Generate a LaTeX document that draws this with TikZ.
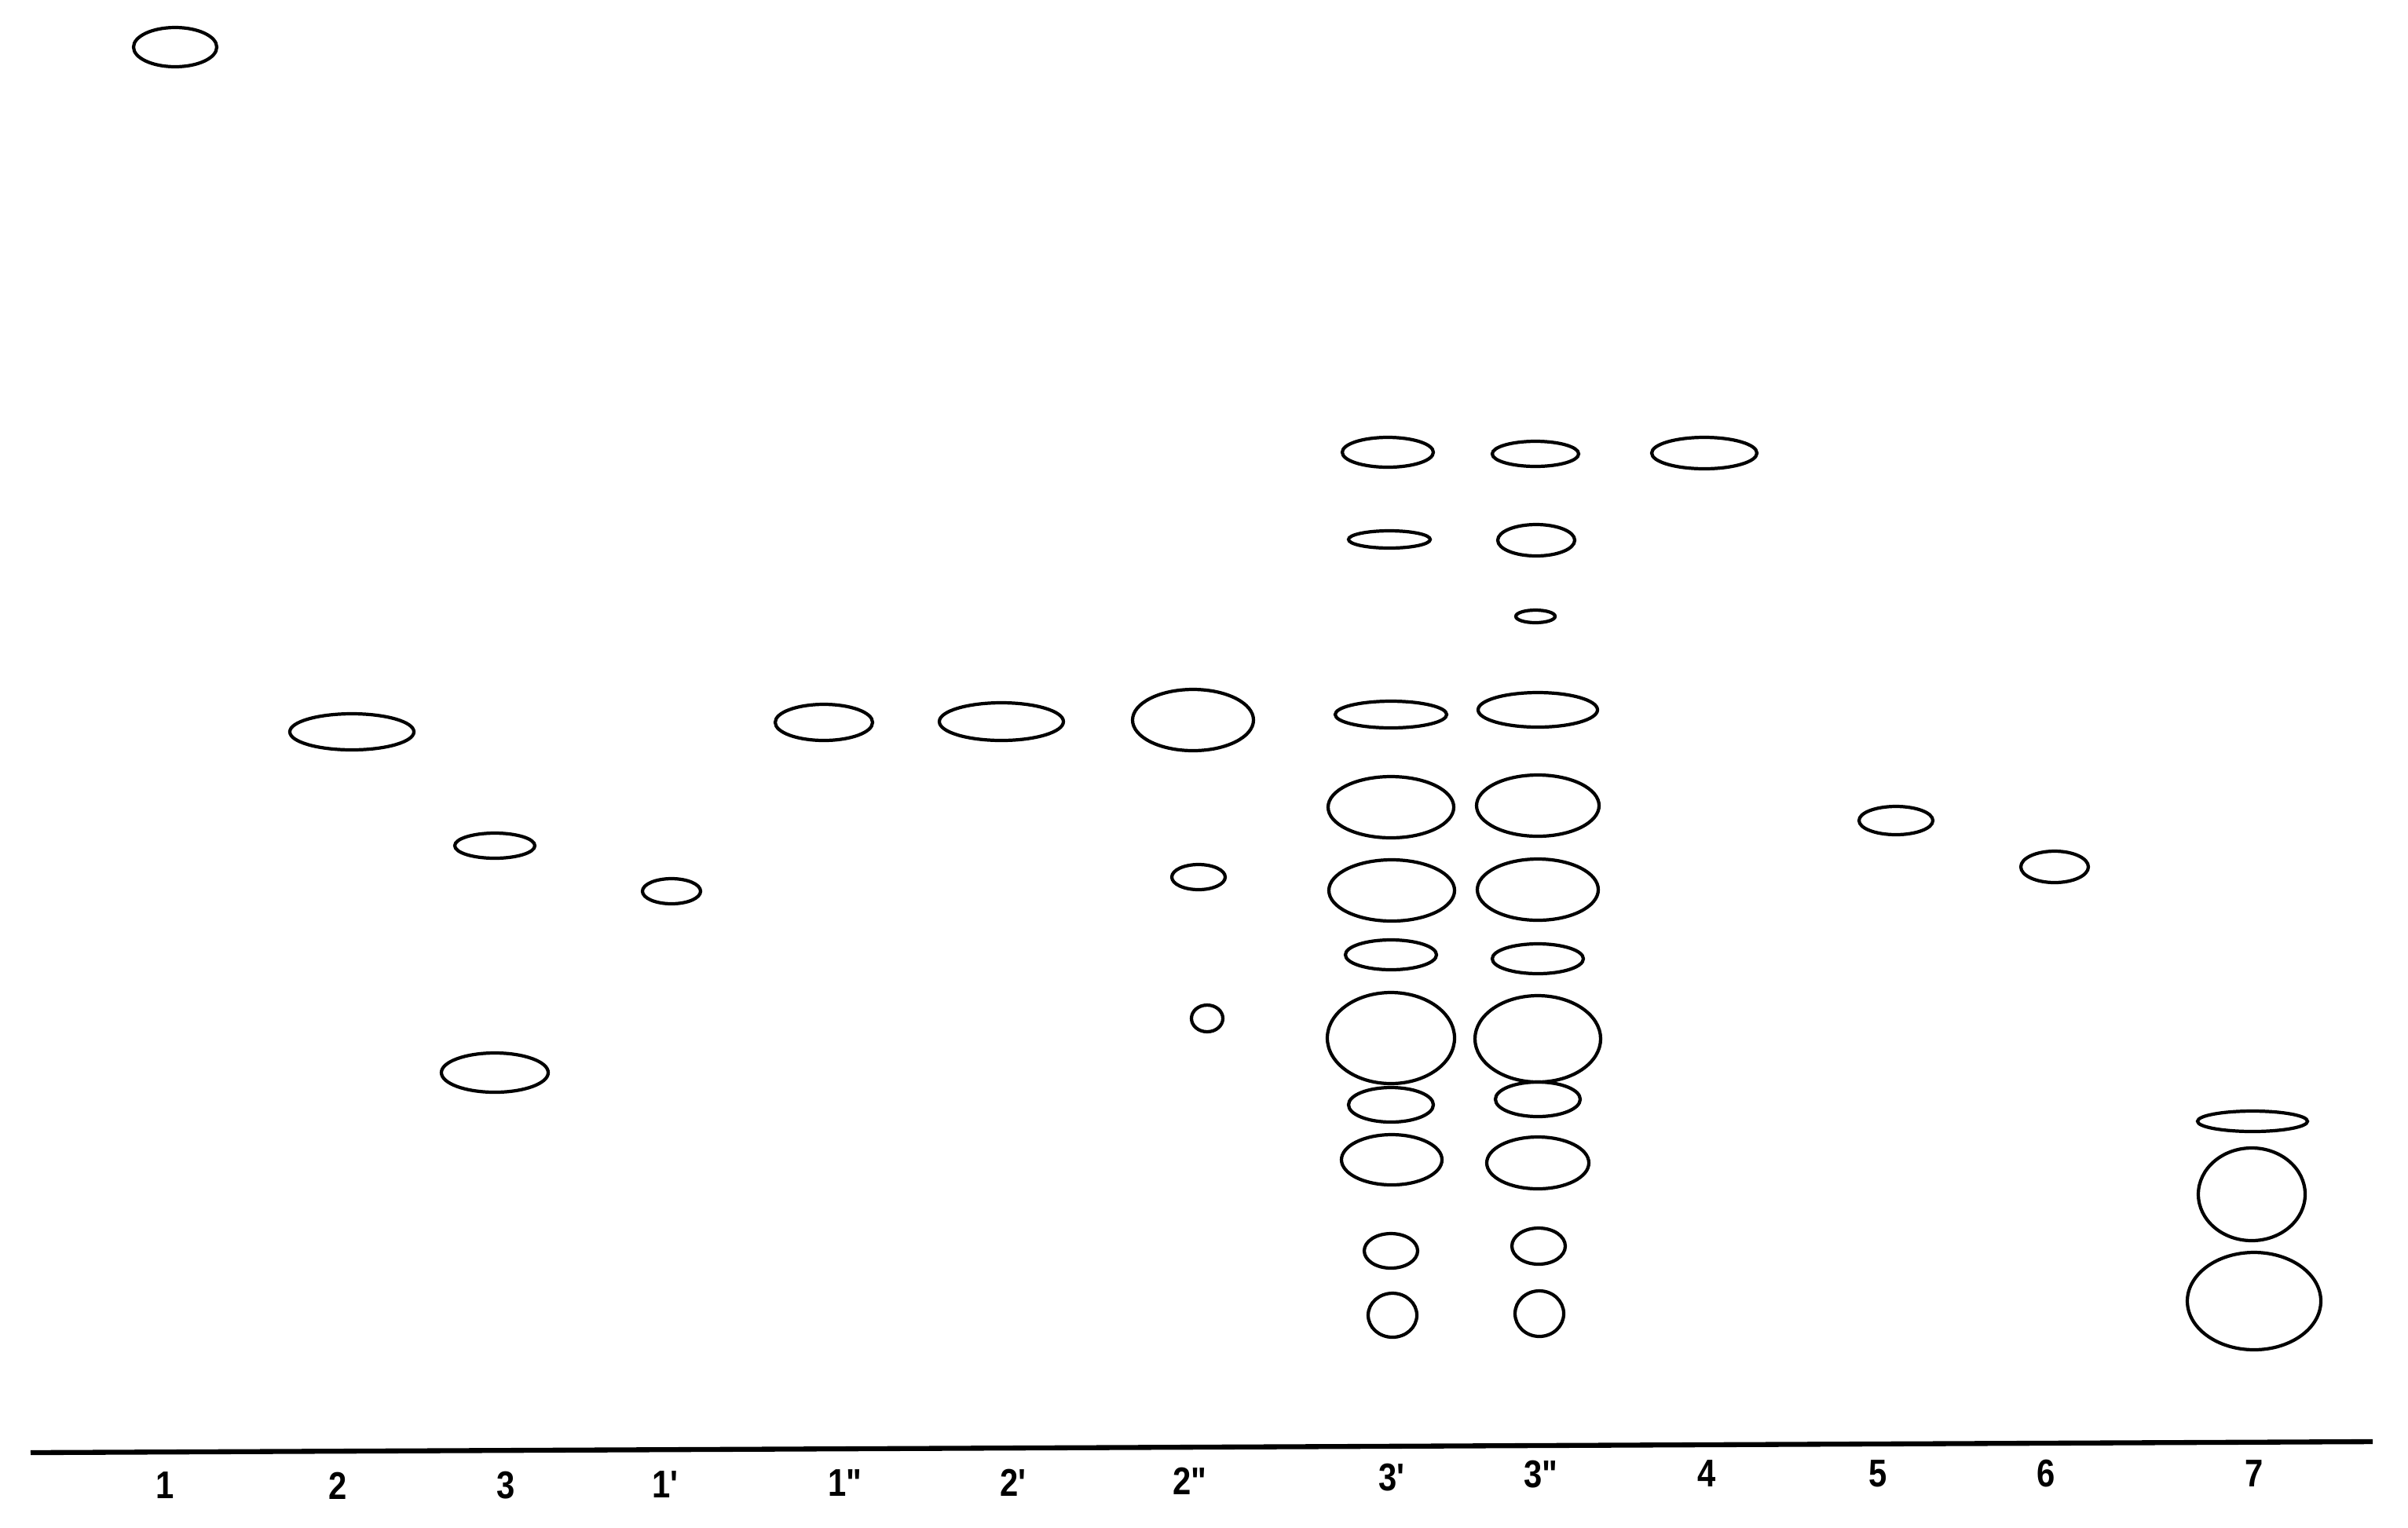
\documentclass[tikz,border=0pt]{standalone}
\usepackage{fontspec}
\newfontfamily\labfont{Liberation Sans}
\tikzset{
  spotline/.style={draw=black, line width=1.2pt},
  baseln/.style={draw=black, line width=1.8pt},
  lanelabel/.style={font=\labfont\fontsize{14}{16}\selectfont\bfseries, inner sep=0pt, text=black}
}
\newcommand{\lab}[1]{\scalebox{0.85}[1]{#1}}
\newcommand{\pr}{{\char"0027}}
\newcommand{\dpr}{{\char"0022}}
\begin{document}
\begin{tikzpicture}[x=1cm,y=-1cm]
\useasboundingbox[fill=white] (0,0) rectangle (30.66,19.45);
% lane 1
\draw[spotline] (2.23,0.60) ellipse [x radius=0.53cm, y radius=0.25cm];
% lane 2
\draw[spotline] (4.48,9.32) ellipse [x radius=0.79cm, y radius=0.23cm];
% lane 3
\draw[spotline] (6.30,10.77) ellipse [x radius=0.51cm, y radius=0.16cm];
\draw[spotline] (6.30,13.66) ellipse [x radius=0.68cm, y radius=0.25cm];
% lane 1'
\draw[spotline] (8.55,11.35) ellipse [x radius=0.37cm, y radius=0.16cm];
% lane 1''
\draw[spotline] (10.49,9.20) ellipse [x radius=0.62cm, y radius=0.23cm];
% lane 2'
\draw[spotline] (12.75,9.19) ellipse [x radius=0.79cm, y radius=0.24cm];
% lane 2''
\draw[spotline] (15.19,9.17) ellipse [x radius=0.77cm, y radius=0.39cm];
\draw[spotline] (15.26,11.17) ellipse [x radius=0.34cm, y radius=0.16cm];
\draw[spotline] (15.37,12.97) ellipse [x radius=0.20cm, y radius=0.17cm];
% lane 3'
\draw[spotline] (17.67,5.76) ellipse [x radius=0.58cm, y radius=0.19cm];
\draw[spotline] (17.69,6.87) ellipse [x radius=0.52cm, y radius=0.11cm];
\draw[spotline] (17.71,9.10) ellipse [x radius=0.71cm, y radius=0.17cm];
\draw[spotline] (17.71,10.28) ellipse [x radius=0.80cm, y radius=0.39cm];
\draw[spotline] (17.72,11.34) ellipse [x radius=0.80cm, y radius=0.39cm];
\draw[spotline] (17.71,12.16) ellipse [x radius=0.58cm, y radius=0.19cm];
\draw[spotline] (17.71,13.22) ellipse [x radius=0.81cm, y radius=0.58cm];
\draw[spotline] (17.71,14.07) ellipse [x radius=0.54cm, y radius=0.22cm];
\draw[spotline] (17.72,14.77) ellipse [x radius=0.64cm, y radius=0.32cm];
\draw[spotline] (17.71,15.93) ellipse [x radius=0.34cm, y radius=0.22cm];
\draw[spotline] (17.73,16.75) ellipse [x radius=0.31cm, y radius=0.28cm];
% lane 3''
\draw[spotline] (19.55,5.78) ellipse [x radius=0.55cm, y radius=0.16cm];
\draw[spotline] (19.56,6.88) ellipse [x radius=0.49cm, y radius=0.20cm];
\draw[spotline] (19.55,7.85) ellipse [x radius=0.25cm, y radius=0.08cm];
\draw[spotline] (19.58,9.04) ellipse [x radius=0.76cm, y radius=0.22cm];
\draw[spotline] (19.58,10.26) ellipse [x radius=0.78cm, y radius=0.39cm];
\draw[spotline] (19.58,11.33) ellipse [x radius=0.77cm, y radius=0.39cm];
\draw[spotline] (19.58,12.21) ellipse [x radius=0.58cm, y radius=0.19cm];
\draw[spotline] (19.58,13.23) ellipse [x radius=0.80cm, y radius=0.55cm];
\draw[spotline] (19.58,14.00) ellipse [x radius=0.54cm, y radius=0.22cm];
\draw[spotline] (19.58,14.81) ellipse [x radius=0.65cm, y radius=0.33cm];
\draw[spotline] (19.59,15.87) ellipse [x radius=0.34cm, y radius=0.23cm];
\draw[spotline] (19.60,16.73) ellipse [x radius=0.31cm, y radius=0.29cm];
% lane 4
\draw[spotline] (21.70,5.77) ellipse [x radius=0.67cm, y radius=0.20cm];
% lane 5
\draw[spotline] (24.14,10.45) ellipse [x radius=0.47cm, y radius=0.18cm];
% lane 6
\draw[spotline] (26.16,11.04) ellipse [x radius=0.43cm, y radius=0.20cm];
% lane 7
\draw[spotline] (28.68,14.28) ellipse [x radius=0.70cm, y radius=0.13cm];
\draw[spotline] (28.67,15.21) ellipse [x radius=0.68cm, y radius=0.59cm];
\draw[spotline] (28.70,16.57) ellipse [x radius=0.85cm, y radius=0.62cm];
% baseline
\coordinate (bl) at (0.39,18.50);
\coordinate (br) at (30.21,18.36);
\draw[baseln] (bl) -- (br);
% labels
\node[lanelabel] (l1)  at (2.10,18.92) {\lab{1}};
\node[lanelabel] (l2)  at (4.30,18.92) {\lab{2}};
\node[lanelabel] (l3)  at (6.44,18.92) {\lab{3}};
\node[lanelabel] (l1p) at (8.47,18.91) {\lab{1\pr}};
\node[lanelabel] (l1pp) at (10.76,18.89) {\lab{1\dpr}};
\node[lanelabel] (l2p) at (12.90,18.88) {\lab{2\pr}};
\node[lanelabel] (l2pp) at (15.15,18.86) {\lab{2\dpr}};
\node[lanelabel] (l3p) at (17.72,18.82) {\lab{3\pr}};
\node[lanelabel] (l3pp) at (19.62,18.78) {\lab{3\dpr}};
\node[lanelabel] (l4) at (21.73,18.77) {\lab{4}};
\node[lanelabel] (l5) at (23.91,18.77) {\lab{5}};
\node[lanelabel] (l6) at (26.05,18.77) {\lab{6}};
\node[lanelabel] (l7) at (28.70,18.77) {\lab{7}};
\end{tikzpicture}
\end{document}
